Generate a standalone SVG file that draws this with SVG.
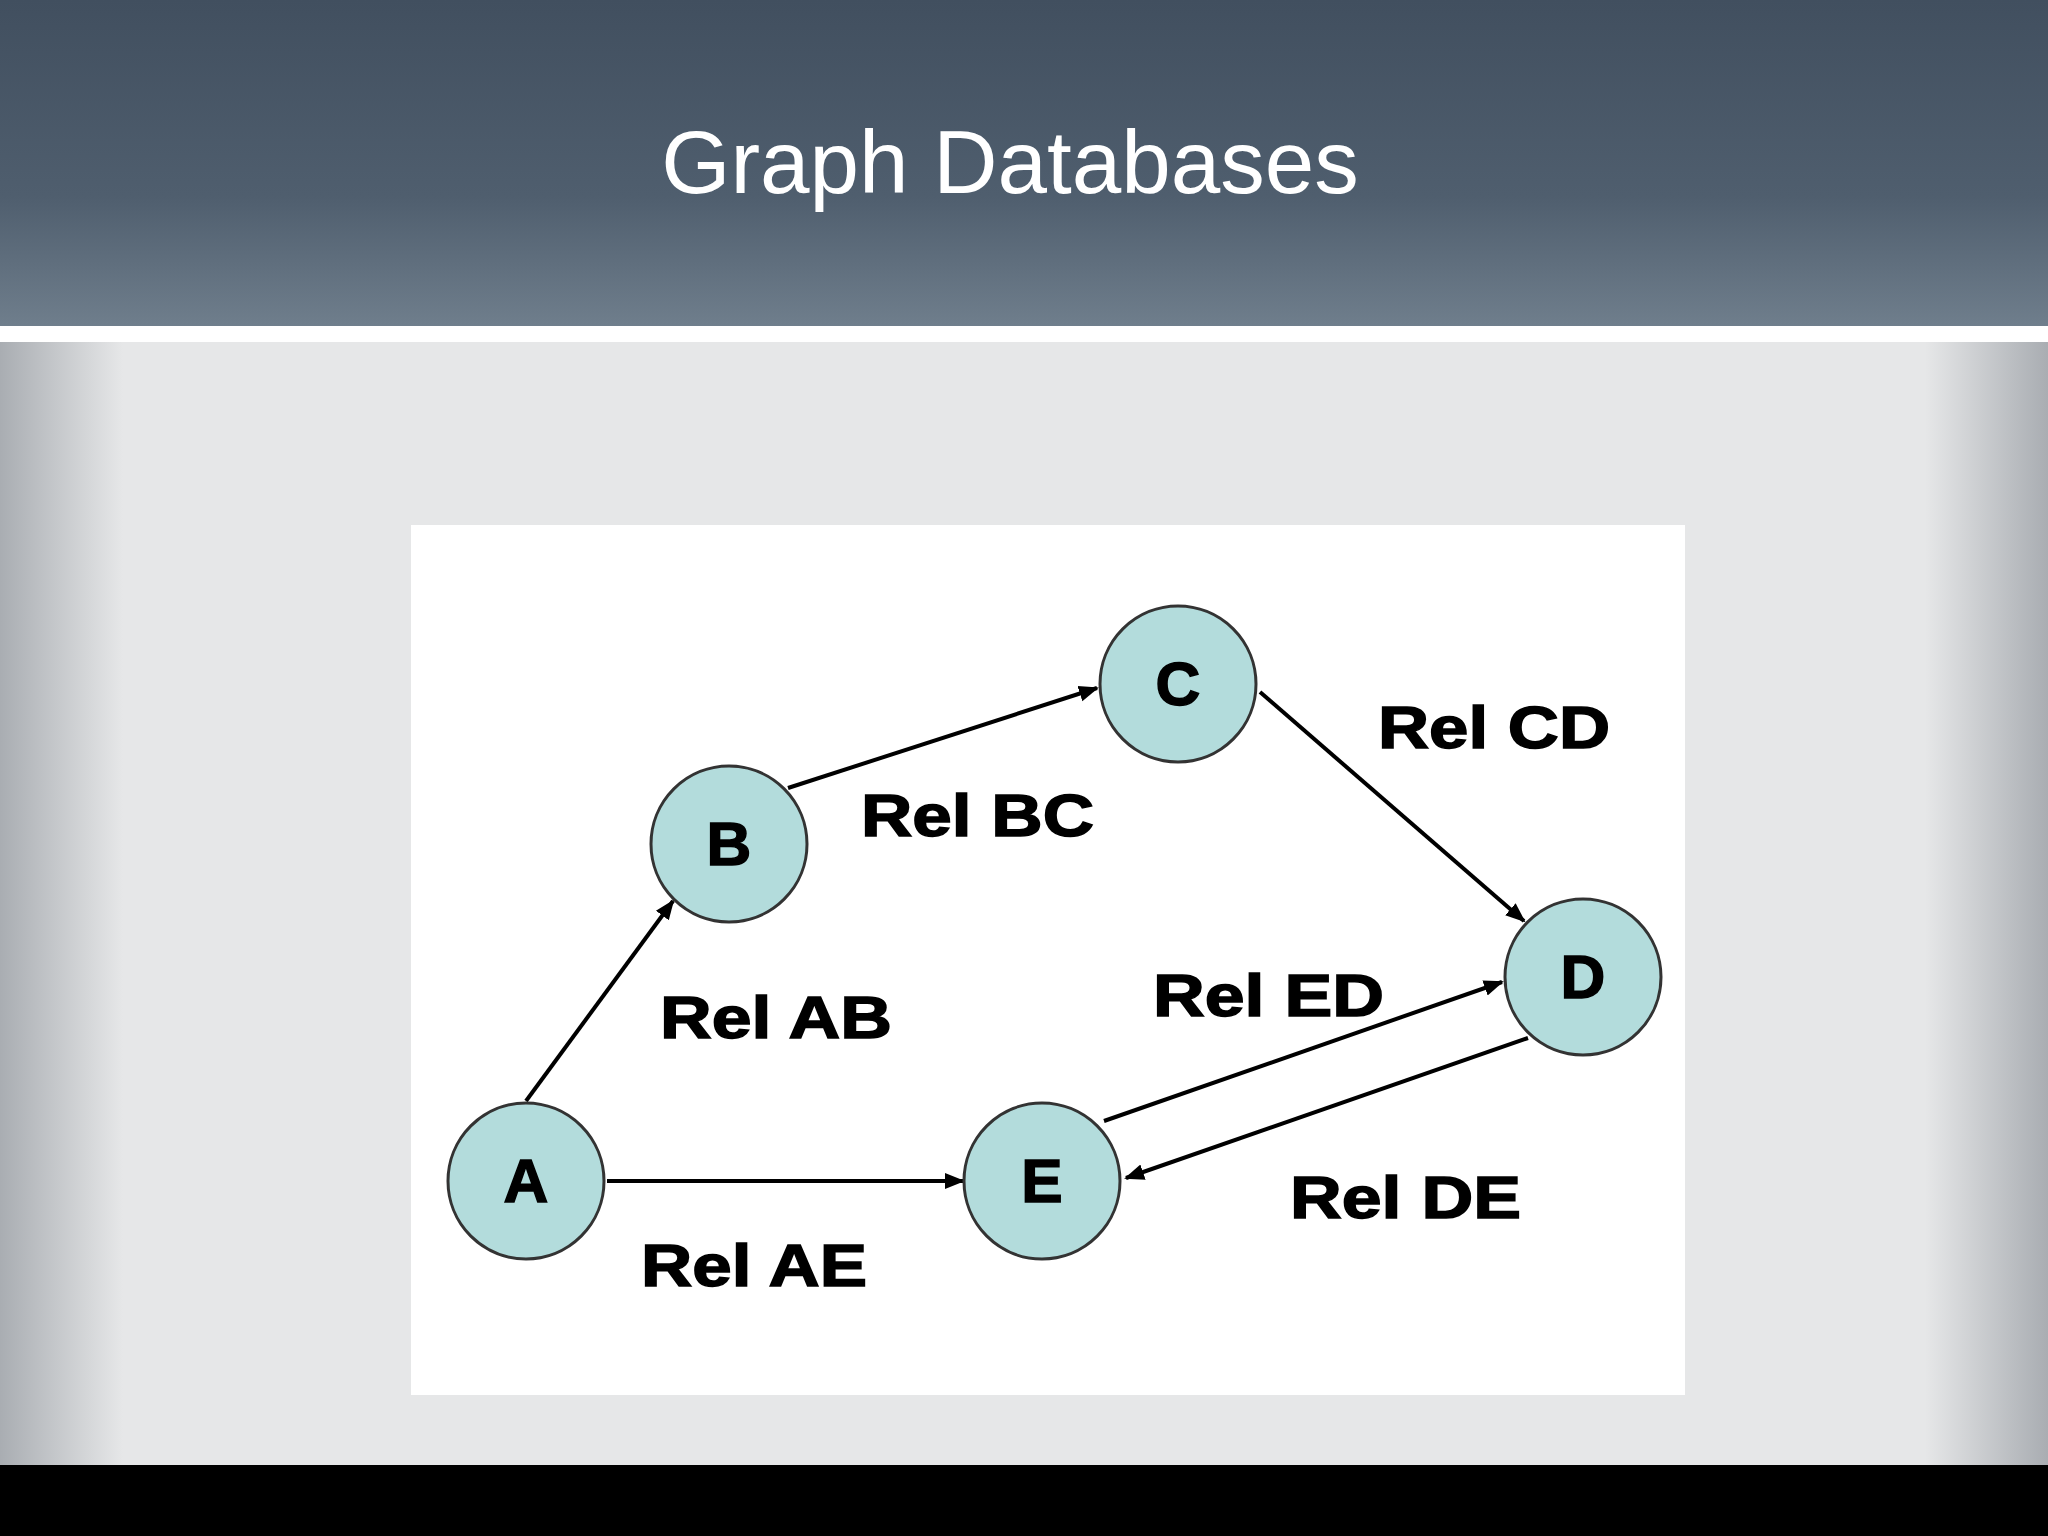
<svg xmlns="http://www.w3.org/2000/svg" width="2048" height="1536" viewBox="0 0 2048 1536">
<defs>
<linearGradient id="hdr" x1="0" y1="0" x2="0" y2="1"><stop offset="0" stop-color="#414f5f"/><stop offset="0.6" stop-color="#4f5e6e"/><stop offset="1" stop-color="#6f7e8c"/></linearGradient>
<linearGradient id="bg" x1="0" y1="0" x2="1" y2="0"><stop offset="0" stop-color="#a9adb2"/><stop offset="0.06" stop-color="#e6e7e8"/><stop offset="0.94" stop-color="#e6e7e8"/><stop offset="1" stop-color="#a9adb2"/></linearGradient>
<marker id="ah" viewBox="0 0 10 10" refX="9" refY="5" markerWidth="5" markerHeight="5" orient="auto"><path d="M0,1 L10,5 L0,9 Z" fill="#000"/></marker>
<style>
.n{fill:#b3dcdc;stroke:#333;stroke-width:3}
.nt{font-family:"Liberation Sans",Arial,sans-serif;font-weight:bold;font-size:62px;text-anchor:middle;fill:#000;stroke:#000;stroke-width:1.5}
.lb{font-family:"Liberation Sans",Arial,sans-serif;font-weight:bold;font-size:60px;fill:#000;stroke:#000;stroke-width:1.5}
.e{stroke:#000;stroke-width:4;fill:none;marker-end:url(#ah)}
</style>
</defs>
<rect width="2048" height="1536" fill="url(#bg)"/>
<rect width="2048" height="326" fill="url(#hdr)"/>
<rect y="326" width="2048" height="16" fill="#fff"/>
<rect y="1465" width="2048" height="71" fill="#000"/>
<text x="1010" y="193" font-family="Liberation Sans,Arial,sans-serif" font-size="89" fill="#fff" text-anchor="middle">Graph Databases</text>
<rect x="411" y="525" width="1274" height="870" fill="#fff"/>
<g id="edges">
<line class="e" x1="526" y1="1101" x2="673" y2="901"/>
<line class="e" x1="788" y1="788" x2="1097" y2="688"/>
<line class="e" x1="1260" y1="692" x2="1524" y2="921"/>
<line class="e" x1="1104" y1="1121" x2="1502" y2="982"/>
<line class="e" x1="1528" y1="1038" x2="1126" y2="1178"/>
<line class="e" x1="607" y1="1181" x2="963" y2="1181"/>
</g>
<g id="labels">
<text class="lb" x="660" y="1038" textLength="232" lengthAdjust="spacingAndGlyphs">Rel AB</text>
<text class="lb" x="861" y="836" textLength="233" lengthAdjust="spacingAndGlyphs">Rel BC</text>
<text class="lb" x="1378" y="748" textLength="232" lengthAdjust="spacingAndGlyphs">Rel CD</text>
<text class="lb" x="1153" y="1016" textLength="231" lengthAdjust="spacingAndGlyphs">Rel ED</text>
<text class="lb" x="1290" y="1218" textLength="231" lengthAdjust="spacingAndGlyphs">Rel DE</text>
<text class="lb" x="641" y="1286" textLength="226" lengthAdjust="spacingAndGlyphs">Rel AE</text>
</g>
<g id="A"><circle class="n" cx="526" cy="1181" r="78"/><text class="nt" x="526" y="1202">A</text></g>
<g id="B"><circle class="n" cx="729" cy="844" r="78"/><text class="nt" x="729" y="865">B</text></g>
<g id="C"><circle class="n" cx="1178" cy="684" r="78"/><text class="nt" x="1178" y="705">C</text></g>
<g id="D"><circle class="n" cx="1583" cy="977" r="78"/><text class="nt" x="1583" y="998">D</text></g>
<g id="E"><circle class="n" cx="1042" cy="1181" r="78"/><text class="nt" x="1042" y="1202">E</text></g>
</svg>
